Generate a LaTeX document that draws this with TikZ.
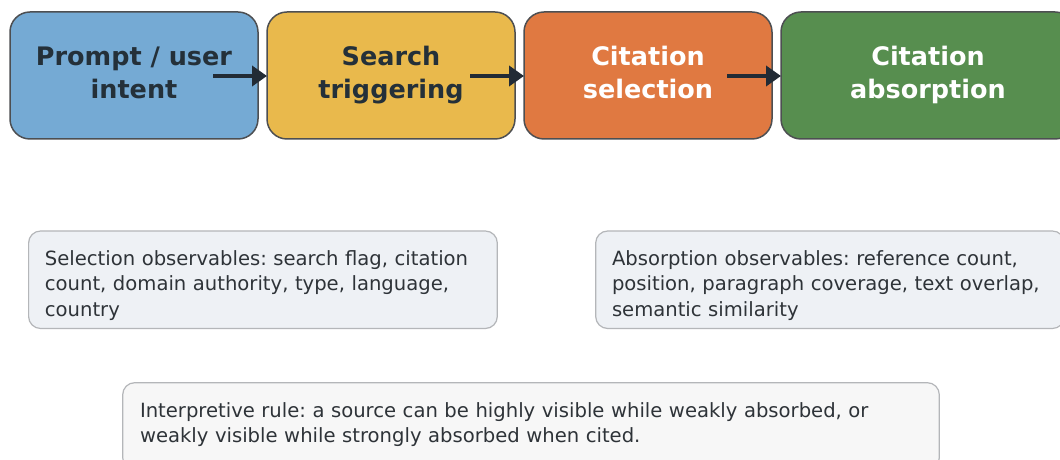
\documentclass[tikz,border=0pt]{standalone}
\usepackage{fontspec}
\setmainfont{DejaVu Sans}
\usetikzlibrary{positioning,arrows.meta}
\frenchspacing
\definecolor{promptblue}{HTML}{75AAD4}
\definecolor{searchyellow}{HTML}{E9B94C}
\definecolor{selectorange}{HTML}{E07941}
\definecolor{absorbgreen}{HTML}{578E4F}
\definecolor{stageedge}{HTML}{4D4F52}
\definecolor{stagetext}{HTML}{243039}
\definecolor{flowcol}{HTML}{222B35}
\definecolor{noteedge}{HTML}{B4B6B9}
\definecolor{notefill}{HTML}{EEF1F5}
\definecolor{rulefill}{HTML}{F7F7F7}
\definecolor{notetext}{HTML}{2E3338}
\tikzset{
  stage/.style={draw=stageedge, line width=1.5pt, rounded corners=20pt,
    minimum width=248pt, minimum height=127pt, outer sep=0pt, align=center,
    font=\fontsize{25.5}{33}\selectfont\bfseries, text=stagetext,
    execute at end node={\rule[-6pt]{0pt}{6pt}}},
  note/.style={draw=noteedge, line width=1.2pt, rounded corners=12pt,
    fill=notefill, text=notetext, align=left, anchor=north west,
    inner xsep=16.3pt, inner ysep=0pt, outer sep=0pt, text width=436.1pt,
    font=\fontsize{19.6}{25.5}\selectfont,
    execute at begin node={\rule{0pt}{34.5pt}}},
  notepad/.style={execute at end node={\rule[-#1]{0pt}{#1}}},
  flow/.style={line width=4pt, draw=flowcol, -{Triangle[length=15pt,width=20pt]}}
}
\begin{document}
\begin{tikzpicture}[x=1pt, y=1pt]
  \useasboundingbox[fill=white] (0,0) rectangle (1060,460);
  % pipeline stages
  \node[stage, fill=promptblue] (prompt) at (134,384.5) {Prompt / user\\intent};
  \node[stage, fill=searchyellow, right=9pt of prompt] (search) {Search\\triggering};
  \node[stage, fill=selectorange, text=white, right=9pt of search] (selection) {Citation\\selection};
  \node[stage, fill=absorbgreen, text=white, minimum width=294pt, right=9pt of selection] (absorption) {Citation\\absorption};
  \draw[flow] ([xshift=-45pt,yshift=-0.5pt]prompt.east) -- ([yshift=-0.5pt]search.west);
  \draw[flow] ([xshift=-45pt,yshift=-0.5pt]search.east) -- ([yshift=-0.5pt]selection.west);
  \draw[flow] ([xshift=-45pt,yshift=-0.5pt]selection.east) -- ([yshift=-0.5pt]absorption.west);
  % observables
  \node[note, notepad=12pt] (selobs) at (28.6,229)
    {Selection observables: search flag, citation\\count, domain authority, type, language,\\country};
  \node[note, notepad=12pt] (absobs) at (595.7,229)
    {Absorption observables: reference count,\\position, paragraph coverage, text overlap,\\semantic similarity};
  % interpretive rule
  \node[note, notepad=27pt, fill=rulefill, inner xsep=17.3pt, text width=782pt] (rule) at (122.7,77.3)
    {Interpretive rule: a source can be highly visible while weakly absorbed, or\\weakly visible while strongly absorbed when cited.};
\end{tikzpicture}
\end{document}
